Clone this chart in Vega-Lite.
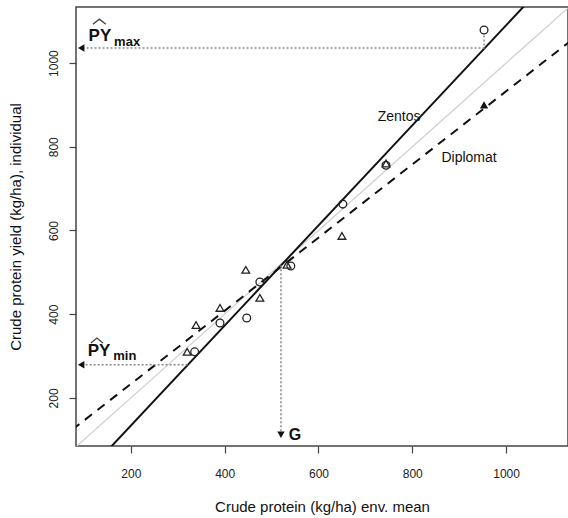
{
  "$schema": "https://vega.github.io/schema/vega-lite/v6.json",
  "width": 492,
  "height": 439,
  "autosize": {"type": "none"},
  "padding": {"left": 76, "top": 7, "right": 0, "bottom": 72},
  "background": "white",
  "config": {
    "font": "Liberation Sans",
    "view": {"stroke": "#444", "strokeWidth": 1.5},
    "axis": {
      "grid": false,
      "domain": false,
      "tickColor": "#444",
      "tickSize": 7,
      "tickWidth": 1.2,
      "labelFont": "Liberation Sans",
      "labelFontSize": 12,
      "labelColor": "#222",
      "titleFont": "Liberation Sans",
      "titleFontSize": 15,
      "titleFontWeight": "normal",
      "titleColor": "#111"
    }
  },
  "resolve": {"scale": {"shape": "independent"}},
  "datasets": {
    "lines": [
      {"line": "1:1", "x": 83, "y": 83},
      {"line": "1:1", "x": 1132, "y": 1132},
      {"line": "Zentos", "x": 150, "y": 74},
      {"line": "Zentos", "x": 1050, "y": 1150},
      {"line": "Diplomat", "x": 75, "y": 124},
      {"line": "Diplomat", "x": 1140, "y": 1055}
    ],
    "points": [
      {"cultivar": "Zentos", "env": 953, "cp": 1079, "status": "obs"},
      {"cultivar": "Zentos", "env": 744, "cp": 756, "status": "obs"},
      {"cultivar": "Zentos", "env": 652, "cp": 663, "status": "obs"},
      {"cultivar": "Zentos", "env": 541, "cp": 515, "status": "obs"},
      {"cultivar": "Zentos", "env": 475, "cp": 477, "status": "obs"},
      {"cultivar": "Zentos", "env": 447, "cp": 391, "status": "obs"},
      {"cultivar": "Zentos", "env": 390, "cp": 379, "status": "obs"},
      {"cultivar": "Zentos", "env": 336, "cp": 310, "status": "obs"},
      {"cultivar": "Diplomat", "env": 953, "cp": 900, "status": "top"},
      {"cultivar": "Diplomat", "env": 744, "cp": 760, "status": "obs"},
      {"cultivar": "Diplomat", "env": 650, "cp": 587, "status": "obs"},
      {"cultivar": "Diplomat", "env": 533, "cp": 518, "status": "obs"},
      {"cultivar": "Diplomat", "env": 475, "cp": 439, "status": "obs"},
      {"cultivar": "Diplomat", "env": 445, "cp": 506, "status": "obs"},
      {"cultivar": "Diplomat", "env": 390, "cp": 415, "status": "obs"},
      {"cultivar": "Diplomat", "env": 339, "cp": 374, "status": "obs"},
      {"cultivar": "Diplomat", "env": 320, "cp": 310, "status": "obs"}
    ],
    "guides": [
      {"guide": "PYmax", "x": 954, "y": 1036, "x2": 97, "y2": 1036},
      {"guide": "PYmax drop", "x": 953, "y": 1066, "x2": 953, "y2": 1036},
      {"guide": "PYmin", "x": 321, "y": 279, "x2": 97, "y2": 279},
      {"guide": "G", "x": 520, "y": 517, "x2": 520, "y2": 112}
    ],
    "leftheads": [
      {"guide": "PYmax", "x": 94, "y": 1036},
      {"guide": "PYmin", "x": 94, "y": 279}
    ],
    "downheads": [
      {"guide": "G", "x": 520, "y": 112}
    ],
    "bigtext": [
      {"label": "PY", "x": 134, "y": 1065},
      {"label": "PY", "x": 132, "y": 311}
    ],
    "subtext": [
      {"label": "max", "x": 192, "y": 1050},
      {"label": "min", "x": 187, "y": 301}
    ],
    "hats": [
      {"hat": "max", "x": 119, "y": 1093},
      {"hat": "max", "x": 132.8, "y": 1105},
      {"hat": "max", "x": 146.7, "y": 1093},
      {"hat": "min", "x": 114.7, "y": 331},
      {"hat": "min", "x": 127.5, "y": 343},
      {"hat": "min", "x": 140.3, "y": 331}
    ],
    "gtext": [
      {"label": "G", "x": 550, "y": 112}
    ],
    "names": [
      {"label": "Zentos", "x": 772, "y": 871},
      {"label": "Diplomat", "x": 921, "y": 773}
    ]
  },
  "layer": [
    {
      "data": {"name": "lines"},
      "transform": [{"filter": "datum.line === '1:1'"}],
      "mark": {"type": "line", "color": "#cfcfcf", "strokeWidth": 1.2, "clip": true},
      "encoding": {
        "x": {"field": "x", "type": "quantitative", "scale": {"domain": [83, 1132], "nice": false, "zero": false},
              "axis": {"values": [200, 400, 600, 800, 1000], "format": "d", "title": "Crude protein (kg/ha) env. mean", "labelPadding": 15, "titlePadding": 20}},
        "y": {"field": "y", "type": "quantitative", "scale": {"domain": [85, 1134], "nice": false, "zero": false},
              "axis": {"values": [200, 400, 600, 800, 1000], "format": "d", "title": "Crude protein yield (kg/ha), individual", "labelAngle": -90, "labelAlign": "center", "labelBaseline": "bottom", "labelPadding": 9, "titlePadding": 24}}
      }
    },
    {
      "data": {"name": "lines"},
      "transform": [{"filter": "datum.line === 'Zentos'"}],
      "mark": {"type": "line", "color": "#111", "strokeWidth": 2, "clip": true},
      "encoding": {
        "x": {"field": "x", "type": "quantitative"},
        "y": {"field": "y", "type": "quantitative"}
      }
    },
    {
      "data": {"name": "lines"},
      "transform": [{"filter": "datum.line === 'Diplomat'"}],
      "mark": {"type": "line", "color": "#111", "strokeWidth": 2, "strokeDash": [9, 7], "clip": true},
      "encoding": {
        "x": {"field": "x", "type": "quantitative"},
        "y": {"field": "y", "type": "quantitative"}
      }
    },
    {
      "data": {"name": "guides"},
      "mark": {"type": "rule", "color": "#888", "strokeWidth": 1.5, "strokeDash": [2, 2]},
      "encoding": {
        "x": {"field": "x", "type": "quantitative"},
        "y": {"field": "y", "type": "quantitative"},
        "x2": {"field": "x2"},
        "y2": {"field": "y2"}
      }
    },
    {
      "data": {"name": "leftheads"},
      "mark": {"type": "point", "filled": true, "shape": "triangle-left", "color": "#111", "size": 55, "opacity": 1},
      "encoding": {
        "x": {"field": "x", "type": "quantitative"},
        "y": {"field": "y", "type": "quantitative"}
      }
    },
    {
      "data": {"name": "downheads"},
      "mark": {"type": "point", "filled": true, "shape": "triangle-down", "color": "#111", "size": 55, "opacity": 1},
      "encoding": {
        "x": {"field": "x", "type": "quantitative"},
        "y": {"field": "y", "type": "quantitative"}
      }
    },
    {
      "data": {"name": "points"},
      "transform": [{"filter": "datum.status === 'obs'"}],
      "mark": {"type": "point", "filled": false, "color": "#222", "size": 60, "strokeWidth": 1.3, "opacity": 1},
      "encoding": {
        "x": {"field": "env", "type": "quantitative"},
        "y": {"field": "cp", "type": "quantitative"},
        "shape": {"field": "cultivar", "type": "nominal", "scale": {"domain": ["Zentos", "Diplomat"], "range": ["circle", "triangle-up"]}, "legend": null}
      }
    },
    {
      "data": {"name": "points"},
      "transform": [{"filter": "datum.status === 'top'"}],
      "mark": {"type": "point", "filled": true, "shape": "triangle-up", "color": "#111", "size": 70, "opacity": 1},
      "encoding": {
        "x": {"field": "env", "type": "quantitative"},
        "y": {"field": "cp", "type": "quantitative"}
      }
    },
    {
      "data": {"name": "hats"},
      "mark": {"type": "line", "color": "#444", "strokeWidth": 1.3},
      "encoding": {
        "x": {"field": "x", "type": "quantitative"},
        "y": {"field": "y", "type": "quantitative"},
        "detail": {"field": "hat"}
      }
    },
    {
      "data": {"name": "bigtext"},
      "mark": {"type": "text", "fontSize": 17, "fontWeight": "bold", "color": "#111", "align": "center", "baseline": "middle"},
      "encoding": {
        "x": {"field": "x", "type": "quantitative"},
        "y": {"field": "y", "type": "quantitative"},
        "text": {"field": "label"}
      }
    },
    {
      "data": {"name": "subtext"},
      "mark": {"type": "text", "fontSize": 13, "fontWeight": "bold", "color": "#111", "align": "center", "baseline": "middle"},
      "encoding": {
        "x": {"field": "x", "type": "quantitative"},
        "y": {"field": "y", "type": "quantitative"},
        "text": {"field": "label"}
      }
    },
    {
      "data": {"name": "gtext"},
      "mark": {"type": "text", "fontSize": 16, "fontWeight": "bold", "color": "#111", "align": "center", "baseline": "middle"},
      "encoding": {
        "x": {"field": "x", "type": "quantitative"},
        "y": {"field": "y", "type": "quantitative"},
        "text": {"field": "label"}
      }
    },
    {
      "data": {"name": "names"},
      "mark": {"type": "text", "fontSize": 14, "color": "#111", "align": "center", "baseline": "middle"},
      "encoding": {
        "x": {"field": "x", "type": "quantitative"},
        "y": {"field": "y", "type": "quantitative"},
        "text": {"field": "label"}
      }
    }
  ]
}
